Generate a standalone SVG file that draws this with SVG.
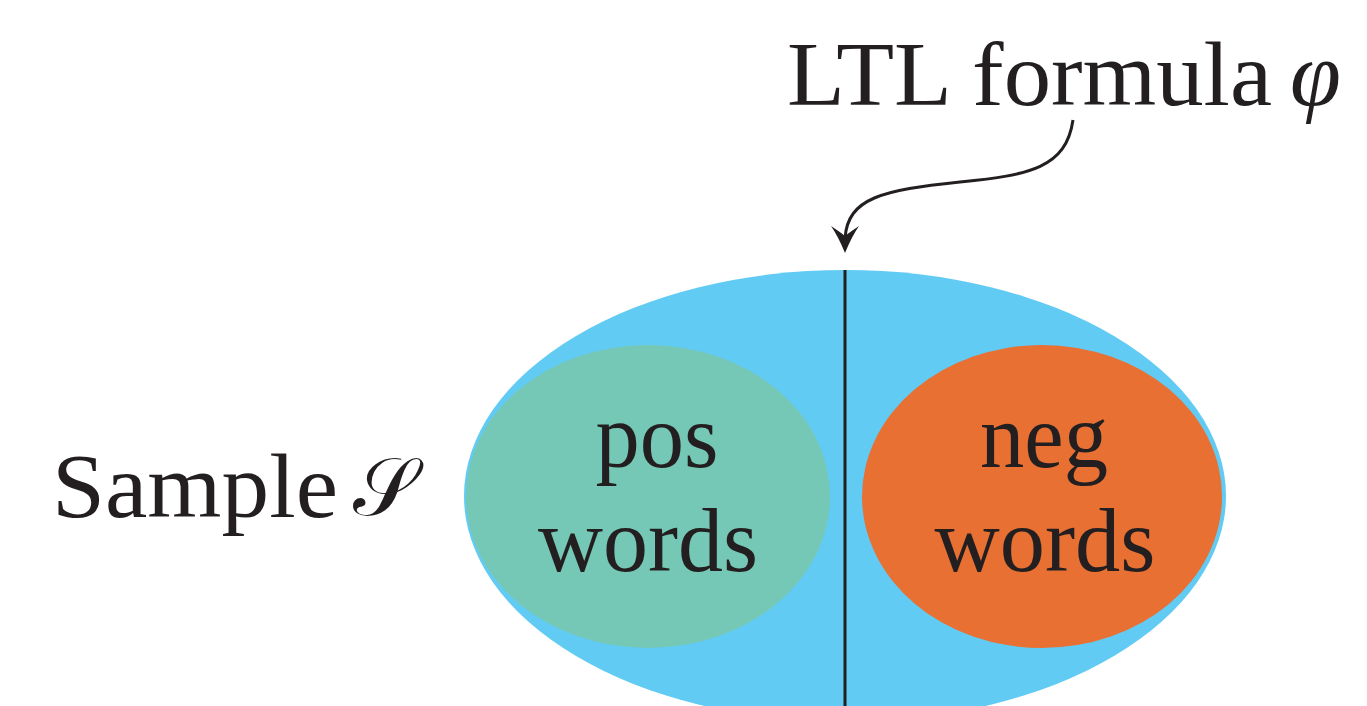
<svg xmlns="http://www.w3.org/2000/svg" width="1367" height="706" viewBox="0 0 1367 706">
<style>
.t{font-family:"Liberation Serif","DejaVu Serif",serif;font-size:92px;fill:#231f20}
.i{font-style:italic}
.c{font-family:"DejaVu Serif","DejaVu Sans","Noto Sans",serif;font-size:82px;fill:#231f20}
</style>
<rect width="1367" height="706" fill="#ffffff"/>
<g id="sample">
<ellipse cx="845" cy="496" rx="381" ry="226" fill="#62cbf3"/>
</g>
<g id="pos">
<ellipse cx="648" cy="496.5" rx="182" ry="151.5" fill="#76c8b6"/>
<text class="t" x="657" y="467" text-anchor="middle" textLength="123" lengthAdjust="spacingAndGlyphs">pos</text>
<text class="t" x="648" y="571" text-anchor="middle" textLength="220" lengthAdjust="spacingAndGlyphs">words</text>
</g>
<g id="neg">
<ellipse cx="1042" cy="496.5" rx="180" ry="151.5" fill="#e87033"/>
<text class="t" x="1044" y="467" text-anchor="middle" textLength="128" lengthAdjust="spacingAndGlyphs">neg</text>
<text class="t" x="1045" y="571" text-anchor="middle" textLength="221" lengthAdjust="spacingAndGlyphs">words</text>
</g>
<g id="label-sample">
<text class="t" x="52" y="517" textLength="286" lengthAdjust="spacingAndGlyphs">Sample</text>
<text class="c" x="353" y="515">𝒮</text>
</g>
<g id="label-ltl">
<text class="t" x="787" y="105" textLength="485" lengthAdjust="spacingAndGlyphs">LTL formula</text>
<text class="t i" x="1290" y="105">φ</text>
</g>
<g id="connectors">
<line x1="845" y1="270" x2="845" y2="706" stroke="#231f20" stroke-width="3"/>
<path d="M1073,120 C1066,168 1030,175 960,182 C882,190 848,198 845,238" fill="none" stroke="#231f20" stroke-width="3"/>
<path d="M845,253 Q838,236 831,226 Q840,232 845,236 Q850,232 859,226 Q852,236 845,253 Z" fill="#231f20"/>
</g>
</svg>
